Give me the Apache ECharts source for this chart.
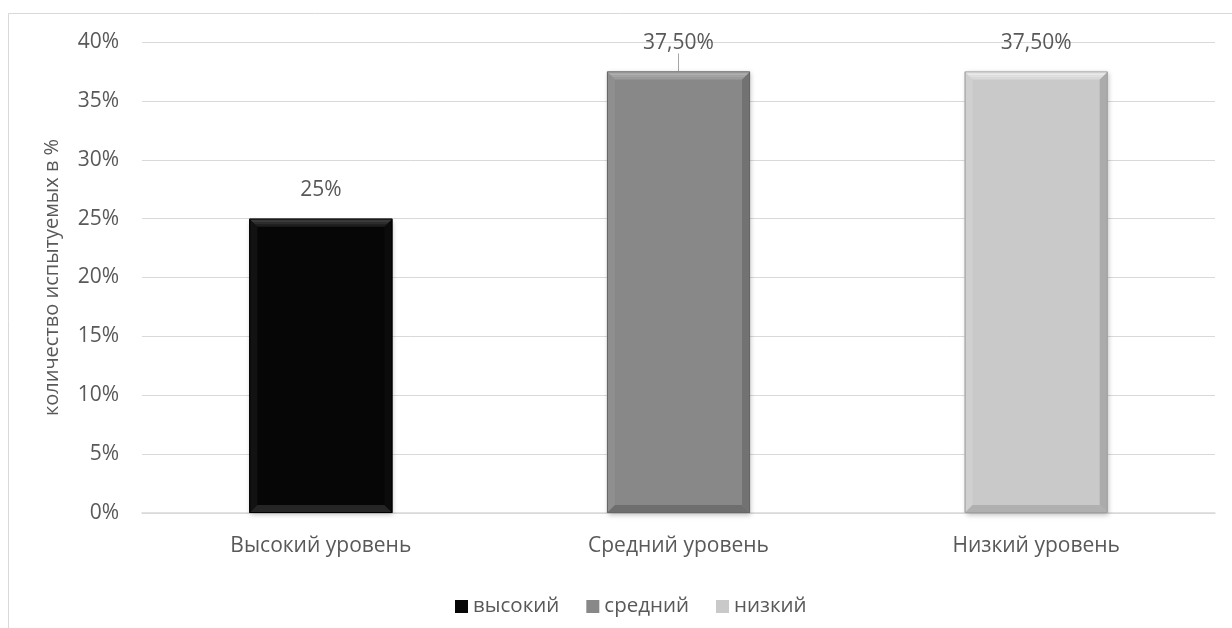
<!DOCTYPE html>
<html>
<head>
<meta charset="utf-8">
<script src="https://cdn.jsdelivr.net/npm/echarts@6/dist/echarts.min.js"></script>
<style>
  html, body { margin: 0; padding: 0; background: #ffffff; }
  #chart { width: 1232px; height: 628px; }
</style>
</head>
<body>
<div id="chart"></div>
<script>
// Levels of the tested group and their share, in percent
const categories = ['Высокий уровень', 'Средний уровень', 'Низкий уровень'];
const levelNames = ['высокий', 'средний', 'низкий'];
const shares = [25, 37.5, 37.5];

// Fill and bevel shades for each level
const palette = [
  { main: '#060606', top: '#4a4a4a', topEnd: '#1e1e1e', left: '#121212', right: '#0b0b0b', bottom: '#252525', edge: '#000000' },
  { main: '#888888', top: '#b8b8b8', topEnd: '#9c9c9c', left: '#8f8f8f', right: '#727272', bottom: '#6e6e6e', edge: '#666666' },
  { main: '#c9c9c9', top: '#f2f2f2', topEnd: '#dadada', left: '#d0d0d0', right: '#ababab', bottom: '#b0b0b0', edge: '#a0a0a0' }
];

const FONT = '"Open Sans", "Noto Sans", sans-serif';
const TEXT = '#595959';
const FS = 21;

function pctLabel(v) {
  return Number.isInteger(v) ? v + '%' : v.toFixed(2).replace('.', ',') + '%';
}

const chart = echarts.init(document.getElementById('chart'), null, { renderer: 'canvas' });

// One stacked bar series per level, so each level gets its own legend entry
const barSeries = levelNames.map((name, i) => ({
  name: name,
  type: 'bar',
  stack: 'levels',
  barWidth: '40%',
  z: 2,
  data: categories.map((c, j) => (j === i ? shares[j] : '-')),
  itemStyle: {
    color: palette[i].main,
    shadowBlur: 5,
    shadowColor: 'rgba(0,0,0,0.25)',
    shadowOffsetX: 1,
    shadowOffsetY: 2
  },
  label: {
    show: true,
    position: 'top',
    distance: i === 1 ? 8 : 18,
    fontFamily: FONT,
    fontSize: FS,
    color: TEXT,
    formatter: p => pctLabel(p.value)
  },
  labelLayout: i === 1 ? { dy: -10 } : undefined,
  labelLine: i === 1 ? { show: true, lineStyle: { color: '#a6a6a6', width: 1 } } : undefined
}));

// Bevelled frame drawn over every bar
const bevelSeries = {
  type: 'custom',
  name: 'bevel',
  z: 3,
  silent: true,
  data: shares.map((v, i) => [i, v]),
  renderItem: function (params, api) {
    const idx = api.value(0);
    const top = api.coord([idx, api.value(1)]);
    const bot = api.coord([idx, 0]);
    const w = api.size([1, 0])[0] * 0.4;
    const x0 = top[0] - w / 2, x1 = top[0] + w / 2;
    const y0 = top[1], y1 = bot[1];
    const d = 8;
    const c = palette[idx];
    const children = [
      { type: 'polygon', shape: { points: [[x0, y0], [x0 + d, y0 + d], [x0 + d, y1 - d], [x0, y1]] },
        style: { fill: c.left } },
      { type: 'polygon', shape: { points: [[x1, y0], [x1, y1], [x1 - d, y1 - d], [x1 - d, y0 + d]] },
        style: { fill: c.right } },
      { type: 'polygon', shape: { points: [[x0, y1], [x0 + d, y1 - d], [x1 - d, y1 - d], [x1, y1]] },
        style: { fill: c.bottom } }
    ];
    // top face: stepped from light at the edge to the fill colour
    const steps = 4;
    for (let s = 0; s < steps; s++) {
      const a = d * s / steps, b = d * (s + 1) / steps;
      const t = s / (steps - 1);
      children.push({
        type: 'polygon',
        shape: { points: [[x0 + a, y0 + a], [x1 - a, y0 + a], [x1 - b, y0 + b], [x0 + b, y0 + b]] },
        style: { fill: echarts.color.lerp(t, [c.top, c.topEnd]) }
      });
    }
    children.push({ type: 'rect', shape: { x: x0 + 0.5, y: y0 + 0.5, width: w - 1, height: y1 - y0 - 1 },
      style: { fill: null, stroke: c.edge, lineWidth: 1 } });
    return { type: 'group', children: children };
  }
};

chart.setOption({
  backgroundColor: '#ffffff',
  animation: false,
  graphic: [
    { type: 'line', shape: { x1: 8.5, y1: 13.5, x2: 1232, y2: 13.5 }, style: { stroke: '#d9d9d9', lineWidth: 1 } },
    { type: 'line', shape: { x1: 8.5, y1: 13.5, x2: 8.5, y2: 628 }, style: { stroke: '#d9d9d9', lineWidth: 1 } }
  ],
  grid: { left: 142, right: 17, top: 42, bottom: 115 },
  legend: {
    data: levelNames,
    bottom: 6,
    left: 450,
    itemWidth: 13,
    itemHeight: 13,
    itemGap: 27,
    icon: 'rect',
    textStyle: { fontFamily: FONT, fontSize: 20.5, color: TEXT }
  },
  xAxis: {
    type: 'category',
    data: categories,
    axisTick: { show: false },
    axisLine: { lineStyle: { color: '#d9d9d9', width: 1.5 } },
    axisLabel: { fontFamily: FONT, fontSize: FS, color: TEXT, margin: 23 }
  },
  yAxis: {
    type: 'value',
    min: 0,
    max: 40,
    interval: 5,
    name: 'количество испытуемых в %',
    nameLocation: 'middle',
    nameGap: 80,
    nameTextStyle: { fontFamily: FONT, fontSize: 20, color: TEXT },
    axisLine: { show: false },
    axisTick: { show: false },
    axisLabel: { fontFamily: FONT, fontSize: FS, color: TEXT, margin: 23, formatter: '{value}%' },
    splitLine: { lineStyle: { color: '#d9d9d9', width: 1 } }
  },
  series: barSeries.concat([bevelSeries])
});
</script>
</body>
</html>
